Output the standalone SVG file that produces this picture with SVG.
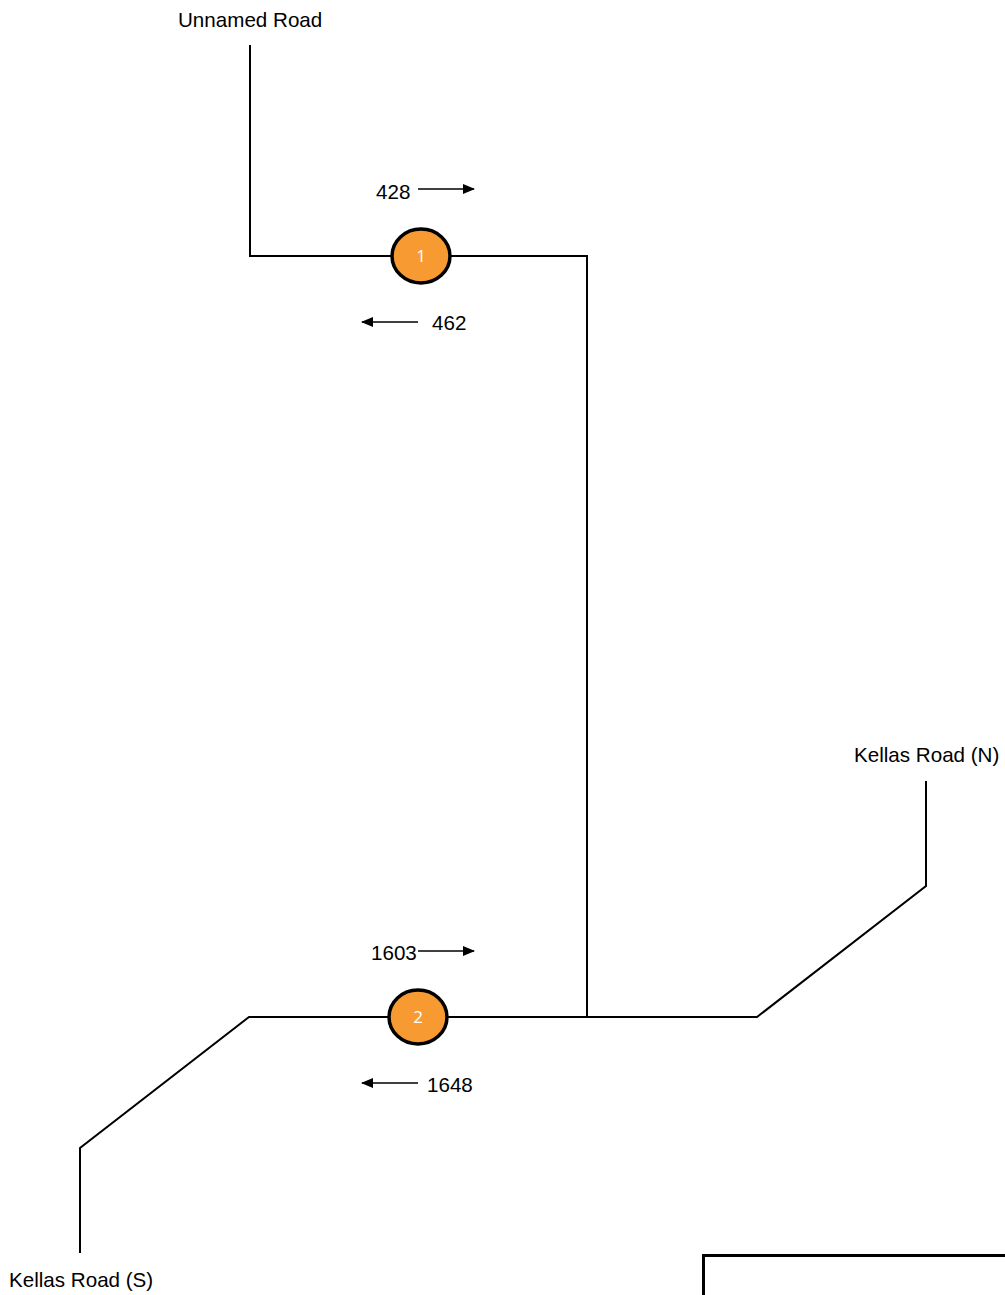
<svg xmlns="http://www.w3.org/2000/svg" width="1005" height="1295" viewBox="0 0 1005 1295">
<style>
.road{fill:none;stroke:#000;stroke-width:2}
.arr{fill:none;stroke:#000;stroke-width:1.3;marker-end:url(#ah)}
.lbl{font-family:"Liberation Sans",Arial,sans-serif;font-size:20.6px;fill:#000}
.node ellipse{fill:#F89A32;stroke:#000;stroke-width:3.5}
.node text{font-family:"Open Sans","Liberation Sans",sans-serif;font-size:17px;fill:#fff;text-anchor:middle}
</style>
<defs>
<marker id="ah" markerWidth="12" markerHeight="10" refX="11" refY="5" orient="auto" markerUnits="userSpaceOnUse">
<path d="M0,0 L12,5 L0,10 z" fill="#000"/>
</marker>
</defs>
<rect width="1005" height="1295" fill="#fff"/>
<g id="connectors">
<polyline class="road" points="250,45 250,256 392,256"/>
<polyline class="road" points="450,256 587,256 587,1017"/>
<polyline class="road" points="80,1253 80,1148 249,1017 389,1017"/>
<polyline class="road" points="447,1017 757,1017 926,886 926,781"/>
<line class="arr" x1="418" y1="189" x2="474" y2="189"/>
<line class="arr" x1="418" y1="322" x2="362" y2="322"/>
<line class="arr" x1="418" y1="951" x2="474" y2="951"/>
<line class="arr" x1="418" y1="1083" x2="362" y2="1083"/>
</g>
<g id="labels">
<text class="lbl" x="178" y="27">Unnamed Road</text>
<text class="lbl" x="854" y="762">Kellas Road (N)</text>
<text class="lbl" x="9" y="1287">Kellas Road (S)</text>
<text class="lbl" x="376" y="199">428</text>
<text class="lbl" x="432" y="330">462</text>
<text class="lbl" x="371" y="960">1603</text>
<text class="lbl" x="427" y="1092">1648</text>
</g>
<g id="node1" class="node">
<ellipse cx="421" cy="256" rx="29" ry="27"/>
<text x="421" y="262">1</text>
</g>
<g id="node2" class="node">
<ellipse cx="418" cy="1017" rx="29" ry="27"/>
<text x="418" y="1023">2</text>
</g>
<g id="frame">
<path d="M703.5,1295 V1255.5 H1005" fill="none" stroke="#000" stroke-width="3"/>
</g>
</svg>
